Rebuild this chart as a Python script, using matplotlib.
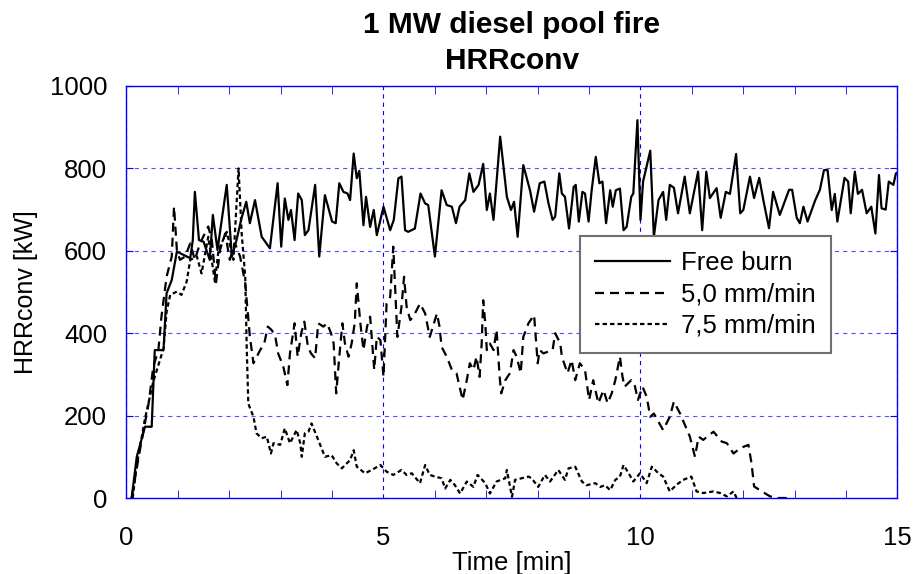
import matplotlib
matplotlib.use('Agg')
import matplotlib.pyplot as plt

plt.rcParams['font.family'] = ['Liberation Sans', 'DejaVu Sans']
plt.rcParams['lines.scale_dashes'] = False

# Free burn (time in min, HRRconv in kW)
free_t = [0.1, 0.2, 0.36, 0.49, 0.55, 0.72, 0.78, 0.88, 0.98, 1.11, 1.24, 1.29, 1.33, 1.41,
          1.5, 1.62, 1.68, 1.77, 1.95, 2.05, 2.14, 2.24, 2.33, 2.4, 2.5, 2.63, 2.79, 2.94,
          3.01, 3.08, 3.15, 3.2, 3.27, 3.34, 3.41, 3.47, 3.54, 3.67, 3.75, 3.86, 4.0, 4.07,
          4.14, 4.22, 4.3, 4.35, 4.42, 4.48, 4.53, 4.61, 4.66, 4.74, 4.81, 4.87, 5.0, 5.13,
          5.2, 5.29, 5.35, 5.42, 5.48, 5.61, 5.72, 5.81, 5.87, 6.0, 6.13, 6.23, 6.33, 6.41,
          6.48, 6.59, 6.67, 6.75, 6.85, 6.94, 7.01, 7.07, 7.14, 7.27, 7.4, 7.48, 7.54, 7.61,
          7.72, 7.85, 7.93, 8.04, 8.13, 8.21, 8.29, 8.34, 8.42, 8.47, 8.53, 8.61, 8.7, 8.74,
          8.8, 8.87, 8.92, 8.99, 9.05, 9.13, 9.2, 9.26, 9.33, 9.41, 9.46, 9.52, 9.6, 9.67,
          9.73, 9.82, 9.86, 9.94, 10.0, 10.05, 10.19, 10.26, 10.35, 10.44, 10.5, 10.57,
          10.65, 10.73, 10.86, 10.96, 11.12, 11.2, 11.28, 11.35, 11.48, 11.56, 11.66, 11.74,
          11.86, 11.94, 12.0, 12.13, 12.21, 12.31, 12.39, 12.5, 12.58, 12.71, 12.89, 12.95,
          13.04, 13.1, 13.17, 13.25, 13.4, 13.49, 13.57, 13.64, 13.72, 13.78, 13.83, 13.97,
          14.04, 14.09, 14.17, 14.23, 14.31, 14.4, 14.49, 14.57, 14.64, 14.69, 14.77, 14.83,
          14.92, 14.97, 15.0]
free_v = [0, 100, 173, 173, 359, 359, 497, 529, 598, 590, 582, 626, 743, 626,
          622, 578, 687, 602, 760, 586, 626, 680, 719, 667, 723, 634, 606, 764,
          610, 727, 675, 699, 626, 739, 723, 638, 650, 760, 586, 735, 671, 667,
          764, 743, 739, 723, 836, 776, 794, 662, 731, 658, 699, 638, 707, 650,
          675, 776, 780, 650, 646, 654, 739, 715, 711, 586, 747, 711, 707, 667,
          707, 723, 788, 743, 760, 811, 699, 739, 675, 877, 731, 699, 719, 634,
          808, 747, 695, 764, 768, 715, 675, 683, 788, 739, 731, 654, 755, 760,
          671, 743, 739, 671, 747, 828, 764, 768, 667, 747, 707, 747, 751, 650,
          658, 731, 739, 917, 675, 768, 843, 634, 723, 743, 675, 760,
          753, 691, 780, 691, 792, 650, 792, 728, 752, 680, 743, 738,
          835, 691, 699, 780, 728, 777, 723, 655, 743, 687, 748, 748,
          680, 667, 707, 671, 723, 748, 796, 796, 699, 738, 671, 777,
          768, 691, 792, 738, 748, 691, 707, 642, 784, 703, 700, 768,
          760, 788, 790]

# 5,0 mm/min
w50_t = [0.1, 0.26, 0.43, 0.52, 0.62, 0.68, 0.78, 0.88, 0.925, 0.98, 1.04, 1.14, 1.24, 1.33,
         1.43, 1.59, 1.66, 1.74, 1.82, 1.92, 2.01, 2.11, 2.21, 2.31, 2.4, 2.47, 2.6, 2.68,
         2.75, 2.82, 2.89, 2.95, 3.05, 3.13, 3.18, 3.27, 3.33, 3.4, 3.46, 3.53, 3.59, 3.67,
         3.73, 3.83, 3.9, 3.98, 4.03, 4.08, 4.14, 4.2, 4.25, 4.32, 4.38, 4.44, 4.48, 4.55,
         4.61, 4.68, 4.74, 4.79, 4.82, 4.87, 4.94, 5.0, 5.06, 5.13, 5.19, 5.24, 5.27, 5.35,
         5.4, 5.45, 5.52, 5.58, 5.71, 5.81, 5.9, 6.04, 6.09, 6.13, 6.23, 6.33, 6.42, 6.54,
         6.62, 6.68, 6.75, 6.81, 6.87, 6.91, 6.94, 6.98, 7.01, 7.07, 7.14, 7.2, 7.26, 7.29,
         7.37, 7.46, 7.53, 7.59, 7.67, 7.72, 7.82, 7.93, 8.0, 8.04, 8.11, 8.29, 8.34, 8.44,
         8.47, 8.58, 8.66, 8.73, 8.82, 8.92, 9.0, 9.08, 9.18, 9.28, 9.36, 9.44, 9.51, 9.6,
         9.65, 9.69, 9.82, 9.88, 9.95, 10.04, 10.12, 10.19, 10.26, 10.44, 10.57, 10.65,
         10.77, 10.96, 11.06, 11.13, 11.22, 11.42, 11.58, 11.68, 11.81, 11.94, 12.1, 12.16,
         12.21, 12.36, 12.52, 12.65, 12.88]
w50_v = [0, 116, 229, 318, 359, 440, 537, 586, 707, 602, 578, 586, 618, 578,
         618, 659, 626, 521, 602, 642, 578, 618, 586, 521, 392, 327, 359, 375,
         416, 408, 396, 351, 319, 274, 351, 424, 343, 400, 428, 367, 351, 339,
         424, 416, 424, 400, 375, 254, 343, 424, 375, 343, 375, 424, 521, 424,
         359, 416, 440, 359, 311, 392, 383, 294, 472, 488, 610, 472, 391, 464,
         537, 464, 432, 440, 472, 448, 391, 448, 416, 367, 343, 311, 303, 238,
         286, 327, 311, 343, 294, 375, 480, 424, 359, 375, 359, 408, 294, 254,
         286, 303, 359, 343, 303, 391, 424, 444, 327, 359, 351, 359, 400, 375,
         343, 303, 335, 286, 327, 311, 238, 286, 230, 262, 230, 254, 286, 343,
         294, 270, 286, 278, 238, 270, 246, 197, 205, 165, 197, 234,
         205, 149, 100, 149, 141, 161, 137, 133, 108, 121, 129, 84,
         28, 16, 4, 0, 0]

# 7,5 mm/min
w75_t = [0.12, 0.2, 0.36, 0.52, 0.72, 0.78, 0.85, 0.98, 1.07, 1.17, 1.24, 1.37, 1.46, 1.59,
         1.72, 1.79, 1.95, 2.08, 2.18, 2.24, 2.31, 2.34, 2.37, 2.47, 2.53, 2.63, 2.73, 2.81,
         2.86, 2.99, 3.08, 3.18, 3.31, 3.38, 3.41, 3.47, 3.54, 3.6, 3.73, 3.86, 3.99, 4.09,
         4.19, 4.35, 4.42, 4.48, 4.64, 4.77, 4.94, 5.06, 5.19, 5.35, 5.45, 5.55, 5.71, 5.81,
         5.9, 6.0, 6.13, 6.2, 6.3, 6.39, 6.49, 6.62, 6.75, 6.83, 6.98, 7.07, 7.2, 7.37,
         7.4, 7.5, 7.56, 7.69, 7.82, 7.88, 8.01, 8.14, 8.24, 8.4, 8.53, 8.6, 8.73, 8.86,
         8.95, 9.12, 9.22, 9.31, 9.41, 9.51, 9.6, 9.67, 9.77, 9.86, 9.99, 10.12, 10.22,
         10.35, 10.44, 10.57, 10.7, 10.83, 10.99, 11.09, 11.22, 11.42, 11.55, 11.68, 11.81,
         11.87]
w75_v = [0, 80, 193, 282, 363, 452, 493, 501, 493, 525, 578, 586, 545, 634,
         525, 602, 646, 578, 800, 643, 537, 359, 229, 197, 157, 145, 149, 108,
         133, 129, 169, 133, 165, 133, 100, 157, 161, 181, 141, 100, 104, 84,
         72, 92, 116, 76, 60, 68, 80, 64, 56, 68, 56, 60, 36, 80,
         56, 52, 48, 23, 44, 31, 11, 40, 27, 56, 36, 11, 40, 48,
         68, 3, 44, 48, 52, 48, 27, 56, 40, 68, 44, 72, 76, 40,
         31, 36, 27, 31, 19, 44, 52, 80, 60, 40, 60, 36, 76,
         60, 52, 16, 32, 44, 52, 16, 12, 16, 12, 4, 16,
         0]

blue = '#0000ff'

fig = plt.figure(figsize=(9.16, 5.74), dpi=100)
ax = fig.add_axes([0.1381, 0.1324, 0.8417, 0.7178])

ax.plot(free_t, free_v, color='black', lw=1.6, ls='-', label='Free burn')
ax.plot(w50_t, w50_v, color='black', lw=1.6, ls=(0, (6.5, 4.3)), label='5,0 mm/min')
ax.plot(w75_t, w75_v, color='black', lw=1.6, ls=(0, (3.2, 2.2)), label='7,5 mm/min')

ax.set_xlim(0, 15)
ax.set_ylim(0, 1000)
ax.set_xticks([0, 5, 10, 15])
ax.set_xticks(range(0, 16), minor=True)
ax.set_yticks([0, 200, 400, 600, 800, 1000])

ax.xaxis.grid(True, which='major', color=blue, ls=(0, (3, 3)), lw=0.8)
ax.yaxis.grid(True, which='major', color='#5050ff', ls=(0, (3, 3)), lw=0.8)
for s in ax.spines.values():
    s.set_color(blue)
    s.set_linewidth(1.0)

ax.tick_params(axis='both', which='both', direction='in', colors=blue,
               labelcolor='black', labelsize=18.5, top=True, right=True)
ax.tick_params(axis='x', which='major', length=0, pad=20)
ax.tick_params(axis='x', which='minor', length=6)
ax.tick_params(axis='y', which='major', length=5, pad=14)

ax.set_xlabel('Time [min]', fontsize=18.5, labelpad=1)
ax.set_ylabel('HRRconv [kW]', fontsize=18, labelpad=8)
ax.set_title('1 MW diesel pool fire\nHRRconv', fontsize=21.5, fontweight='bold',
             pad=12, linespacing=1.4)

leg = ax.legend(loc='upper left', bbox_to_anchor=(0.588, 0.636), fontsize=18.5,
                handlelength=2.9, labelspacing=0.28, fancybox=False, framealpha=1,
                borderaxespad=0, borderpad=0.6, handletextpad=0.45)
leg.get_frame().set_edgecolor('#707070')
leg.get_frame().set_linewidth(1.5)

fig.savefig('out.png', dpi=100)
